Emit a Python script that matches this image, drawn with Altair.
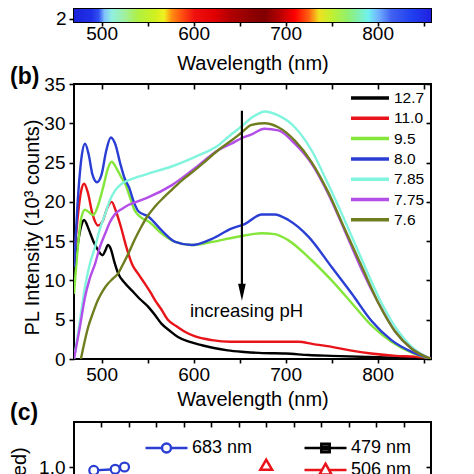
import altair as alt
import pandas as pd

FONT = "Liberation Sans"

# ---------------- (a) colour bar ----------------
bar_wl = [470, 858]
bar_y = [1.8, 2.55]
bar_stop_wl = [470, 489, 497, 503, 511, 525, 540, 558, 568, 576, 587, 601, 623, 641,
               663, 677, 692, 710, 725, 736, 750, 768, 790, 801, 815, 837, 858]
bar_stop_col = ["#1a22d8", "#2030e8", "#3050f0", "#80c0ff", "#90f0e0", "#a0f0a0", "#b0f040",
                "#d0f020", "#f0f020", "#ff9010", "#ff5010", "#f01010", "#e00000", "#b00000",
                "#900000", "#800000", "#b00000", "#ff0000", "#ff6010", "#f0e020", "#c0f030",
                "#90f070", "#70f0f0", "#70b0ff", "#4060f0", "#2040f0", "#2020e0"]

# ---------------- (b) PL spectra ----------------
series_names = ["12.7", "11.0", "9.5", "8.0", "7.85", "7.75", "7.6"]
series_colors = ["#000000", "#e8141a", "#84e63a", "#2a3ed4", "#80f4dc", "#b44ee8", "#6f7d1f"]

wl_127 = [470, 474, 478, 481, 486, 491, 496, 501, 504, 507, 510, 514, 518, 525, 533, 541, 551,
          558, 565, 574, 583, 595, 609, 622, 637, 655, 675, 700, 725, 750, 790, 830, 858]
pl_127 = [10.5, 14.5, 17.0, 17.7, 16.5, 15.0, 13.9, 13.2, 13.8, 14.5, 14.0, 12.3, 10.9, 9.7, 8.7,
          7.7, 6.6, 5.6, 4.5, 3.6, 2.8, 2.2, 1.75, 1.4, 1.1, 0.9, 0.75, 0.7, 0.5, 0.4, 0.25, 0.15, 0.05]

wl_110 = [470, 474, 478, 481, 485, 490, 496, 501, 506, 511, 515, 521, 527, 533, 540, 547, 553,
          558, 565, 572, 581, 590, 601, 620, 640, 680, 714, 730, 750, 770, 793, 820, 840, 858]
pl_110 = [12.5, 18.0, 21.5, 22.3, 21.2, 18.5, 17.0, 17.5, 19.2, 20.0, 19.0, 16.8, 14.2, 12.1,
          10.8, 9.6, 8.5, 7.5, 6.3, 5.0, 4.2, 3.5, 2.9, 2.4, 2.2, 2.2, 2.2, 1.9, 1.55, 1.1, 0.7,
          0.4, 0.3, 0.1]

wl_95 = [470, 474, 478, 482, 486, 491, 496, 502, 507, 511, 516, 521, 526, 531, 536, 543, 551,
         565, 580, 598, 620, 645, 674, 688, 703, 728, 750, 772, 793, 815, 837, 858]
pl_95 = [8.3, 14.0, 18.0, 19.0, 18.7, 18.3, 19.5, 22.0, 24.3, 25.1, 24.3, 23.2, 22.2, 20.5, 18.9,
         18.0, 17.5, 16.0, 14.9, 14.5, 14.9, 15.5, 16.0, 15.9, 15.1, 12.6, 10.0, 7.1, 4.3, 2.2,
         0.8, 0.0]

wl_80 = [470, 474, 478, 482, 486, 490, 495, 500, 505, 510, 515, 520, 525, 530, 535, 540, 551,
         565, 580, 598, 620, 641, 656, 674, 688, 703, 725, 750, 772, 793, 815, 837, 858]
pl_80 = [11.7, 20.0, 25.5, 27.4, 26.0, 23.5, 22.5, 23.5, 26.5, 28.2, 27.3, 25.0, 23.0, 21.8,
         20.0, 18.8, 18.1, 16.4, 14.9, 14.5, 15.3, 16.6, 17.2, 18.4, 18.4, 17.7, 15.55, 11.7,
         8.3, 4.9, 2.4, 0.9, 0.0]

wl_785 = [470, 476, 482, 487, 493, 498, 504, 509, 515, 522, 529, 540, 551, 576, 601, 627, 641,
          652, 663, 670, 677, 692, 710, 728, 746, 764, 783, 801, 819, 837, 858]
pl_785 = [0.0, 4.5, 9.2, 12.0, 14.3, 16.5, 18.5, 20.2, 21.5, 22.3, 22.75, 23.2, 23.6, 24.5,
          25.7, 27.2, 28.6, 29.6, 30.7, 31.2, 31.5, 31.0, 29.5, 26.6, 22.3, 17.7, 12.6, 7.9,
          4.1, 1.55, 0.0]

wl_775 = [470, 476, 482, 487, 493, 498, 504, 509, 515, 522, 529, 540, 551, 576, 601, 627, 641,
          652, 663, 677, 692, 710, 728, 746, 764, 783, 801, 819, 837, 858]
pl_775 = [0.0, 3.8, 7.9, 10.2, 12.15, 14.2, 16.0, 17.4, 18.5, 19.1, 19.6, 20.1, 20.6, 22.1,
          24.25, 26.6, 27.4, 28.1, 28.6, 29.3, 29.1, 27.4, 24.9, 21.1, 16.4, 11.3, 7.1, 3.5,
          1.3, 0.0]

wl_76 = [477.5, 485.5, 491, 496, 502, 507, 512, 518, 523, 529, 536, 543, 550, 558, 567, 576,
         588, 601, 614, 627, 641, 652, 663, 677, 692, 710, 728, 746, 764, 783, 801, 819, 837, 858]
pl_76 = [0.0, 4.1, 6.0, 7.5, 8.8, 9.6, 10.2, 10.9, 12.0, 13.4, 15.2, 16.8, 18.2, 19.4, 20.5,
         21.5, 22.8, 24.0, 25.3, 26.6, 27.8, 28.8, 29.8, 30.0, 29.5, 27.8, 25.1, 21.3, 16.6,
         11.7, 7.1, 3.5, 1.3, 0.0]

all_wl = [wl_127, wl_110, wl_95, wl_80, wl_785, wl_775, wl_76]
all_pl = [pl_127, pl_110, pl_95, pl_80, pl_785, pl_775, pl_76]

arrow_wl = [652.5]
arrow_top = [31.6]
arrow_bottom = [9.0]
arrow_head = [8.5]
note_wl = [657.5]
note_pl = [6.05]
note_text = ["increasing pH"]

# ---------------- (c) ----------------
c_series = ["683 nm", "blank", "479 nm", "506 nm"]
c_colors = ["#2a3ed4", "#ffffff", "#000000", "#e8141a"]
c_ph_683 = [6.86, 7.25, 7.42]
c_val_683 = [0.985, 0.99, 1.0]
c_ph_506 = [10.0]
c_val_506 = [1.01]

# ================= build =================
wl_ticks = list(range(500, 851, 50))
hund = "datum.value % 100 == 0 ? datum.label : ''"
xs = alt.Scale(domain=[470, 858], nice=False, zero=False)

# ---- panel a ----
bar_df = pd.DataFrame({"w0": [bar_wl[0]], "w1": [bar_wl[1]], "y0": [bar_y[0]], "y1": [bar_y[1]]})
span = bar_wl[1] - bar_wl[0]
grad = {"gradient": "linear", "x1": 0, "x2": 1, "y1": 0, "y2": 0,
        "stops": [{"offset": (w - bar_wl[0]) / span, "color": c} for w, c in zip(bar_stop_wl, bar_stop_col)]}
panel_a = alt.Chart(bar_df).mark_rect(fill=grad).encode(
    x=alt.X("w0:Q", scale=xs, axis=alt.Axis(values=wl_ticks, labelExpr=hund, title="Wavelength (nm)",
                                             tickSize=4, labelPadding=-2, titlePadding=10)),
    x2="w1:Q",
    y=alt.Y("y0:Q", scale=alt.Scale(domain=bar_y, nice=False, zero=False),
            axis=alt.Axis(values=[2], title=None, tickSize=5, labelPadding=3)),
    y2="y1:Q",
).properties(width=357, height=13)

# ---- panel b ----
rows = []
for name, ws, vs in zip(series_names, all_wl, all_pl):
    for w, v in zip(ws, vs):
        rows.append({"pH": name, "wl": w, "pl": v})
df = pd.DataFrame(rows)

ys = alt.Scale(domain=[0, 35], nice=False, zero=False)
lines = alt.Chart(df).mark_line(strokeWidth=2.4, interpolate="monotone", clip=True).encode(
    x=alt.X("wl:Q", scale=xs, axis=alt.Axis(values=wl_ticks, labelExpr=hund, title="Wavelength (nm)",
                                             tickSize=4, labelPadding=2, titlePadding=5)),
    y=alt.Y("pl:Q", scale=ys, axis=alt.Axis(values=list(range(0, 36, 5)),
                                             title="PL Intensity (10³ counts)", titleY=143,
                                             tickSize=5, labelPadding=4, titlePadding=1)),
    color=alt.Color("pH:N", scale=alt.Scale(domain=series_names, range=series_colors),
                    sort=series_names,
                    legend=alt.Legend(orient="none", legendX=275, legendY=4, title=None,
                                      symbolType="stroke", symbolSize=1444, symbolStrokeWidth=3.5,
                                      labelFont=FONT, labelFontSize=15.5, labelColor="black",
                                      clipHeight=20, rowPadding=0.3, labelOffset=3, padding=0)),
)

arr_df = pd.DataFrame({"wl": arrow_wl, "y1": arrow_top, "y2": arrow_bottom})
arrow = alt.Chart(arr_df).mark_rule(strokeWidth=2.2, color="black").encode(
    x=alt.X("wl:Q", scale=xs, axis=alt.Axis(orient="top", values=wl_ticks, labels=False, title=None,
                                             tickSize=5, offset=-5)),
    y=alt.Y("y1:Q", scale=ys, axis=alt.Axis(orient="right", values=list(range(0, 36, 5)),
                                             labels=False, title=None, tickSize=5, offset=-5)),
    y2="y2:Q",
)
head_df = pd.DataFrame({"wl": arrow_wl, "pl": arrow_head})
head = alt.Chart(head_df).mark_point(shape="M-0.45,-1L0,1L0.45,-1Z", size=289, filled=True,
                                     color="black", opacity=1).encode(
    x=alt.X("wl:Q", scale=xs, axis=None), y=alt.Y("pl:Q", scale=ys, axis=None))
note_df = pd.DataFrame({"wl": note_wl, "pl": note_pl, "t": note_text})
note = alt.Chart(note_df).mark_text(font=FONT, fontSize=18.5, color="black", baseline="middle").encode(
    x=alt.X("wl:Q", scale=xs, axis=None), y=alt.Y("pl:Q", scale=ys, axis=None), text="t:N")
lab_b = alt.Chart(pd.DataFrame({"t": ["(b)"]})).mark_text(
    font=FONT, fontSize=23, fontWeight="bold", align="left", baseline="middle", color="black").encode(
    text="t:N", x=alt.value(-64), y=alt.value(-7))

panel_b = alt.layer(lines, arrow, head, note, lab_b).resolve_axis(
    x="independent", y="independent").properties(width=357, height=275)

# ---- panel c ----
xc = alt.Scale(domain=[6.5, 13], nice=False, zero=False)
yc = alt.Scale(domain=[0, 1.2], nice=False, zero=False)
ph_ticks = [6.5 + 0.5 * i for i in range(1, 13)]
d683 = pd.DataFrame({"ph": c_ph_683, "v": c_val_683})
d506 = pd.DataFrame({"ph": c_ph_506, "v": c_val_506})

line683 = alt.Chart(d683).mark_line(color="#2a3ed4", strokeWidth=2.5).encode(
    x=alt.X("ph:Q", scale=xc, axis=alt.Axis(values=ph_ticks, title="pH", tickSize=4,
                                            labelExpr="datum.value % 1 == 0 ? datum.label : ''")),
    y=alt.Y("v:Q", scale=yc, axis=alt.Axis(values=[0, 0.2, 0.4, 0.6, 0.8, 1.0], format=".1f",
                                           title="PL Intensity (normalized)", tickSize=5,
                                           labelPadding=4, titlePadding=9)),
)
pts683 = alt.Chart(d683).mark_point(shape="circle", size=80, fill="white", stroke="#2a3ed4",
                                    strokeWidth=2.2, opacity=1, filled=False).encode(
    x=alt.X("ph:Q", scale=xc, axis=None), y=alt.Y("v:Q", scale=yc, axis=None))
pts506 = alt.Chart(d506).mark_point(shape="triangle-up", size=140, fill="white", stroke="#e8141a",
                                    strokeWidth=2.5, opacity=1).encode(
    x=alt.X("ph:Q", scale=xc, axis=alt.Axis(orient="top", values=ph_ticks, labels=False, title=None,
                                            tickSize=5, offset=-5)),
    y=alt.Y("v:Q", scale=yc, axis=alt.Axis(orient="right", values=[0, 0.2, 0.4, 0.6, 0.8, 1.0],
                                           labels=False, title=None, tickSize=5, offset=-5)),
)
shape_paths = [
    "M-1,0H-0.214M0.214,0H1M-0.214,0A0.214,0.214,0,1,1,0.214,0A0.214,0.214,0,1,1,-0.214,0",
    "M0,0",
    "M-1,0H1M-0.2,-0.2H0.2V0.2H-0.2ZM-0.2,-0.07H0.2M-0.2,0.07H0.2",
    "M-1,0H-0.167M0.167,0H1M0,-0.3L0.29,0.22L-0.29,0.22Z",
]
leg_df = pd.DataFrame({"series": c_series, "ph": [7, 7, 7, 7], "v": [1, 1, 1, 1]})
leg_c = alt.Legend(orient="none", legendX=70, legendY=15, title=None, columns=2, columnPadding=50,
                   symbolSize=1764, symbolStrokeWidth=2.5, labelFont=FONT, labelFontSize=18,
                   labelColor="black", clipHeight=22, rowPadding=0, labelOffset=3, padding=0,
                   labelExpr="datum.label == 'blank' ? '' : datum.label")
legend_layer = alt.Chart(leg_df).transform_filter("datum.v > 5").mark_point(
    filled=False, opacity=1, strokeWidth=2.5).encode(
    x=alt.X("ph:Q", scale=xc, axis=None), y=alt.Y("v:Q", scale=yc, axis=None),
    color=alt.Color("series:N", scale=alt.Scale(domain=c_series, range=c_colors), legend=leg_c),
    shape=alt.Shape("series:N", scale=alt.Scale(domain=c_series, range=shape_paths), legend=leg_c),
)
lab_c = alt.Chart(pd.DataFrame({"t": ["(c)"]})).mark_text(
    font=FONT, fontSize=23, fontWeight="bold", align="left", baseline="middle", color="black").encode(
    text="t:N", x=alt.value(-64), y=alt.value(-9))

panel_c = alt.layer(line683, pts683, pts506, legend_layer, lab_c).resolve_axis(
    x="independent", y="independent").properties(width=357, height=270)

chart = alt.vconcat(panel_a, panel_b, panel_c, spacing=-9).resolve_scale(
    color="independent", shape="independent").resolve_legend(
    color="independent", shape="independent").properties(padding=0).configure_view(
    stroke="black", strokeWidth=2).configure_axis(
    grid=False, domain=False, labelFont=FONT, titleFont=FONT, labelFontSize=19, titleFontSize=20,
    labelColor="black", titleColor="black", tickColor="black", tickWidth=1.6, labelFlush=False,
    titleFontWeight="normal", labelOverlap=False)

chart.save("out.html", embed_options={"renderer": "svg", "actions": False})
